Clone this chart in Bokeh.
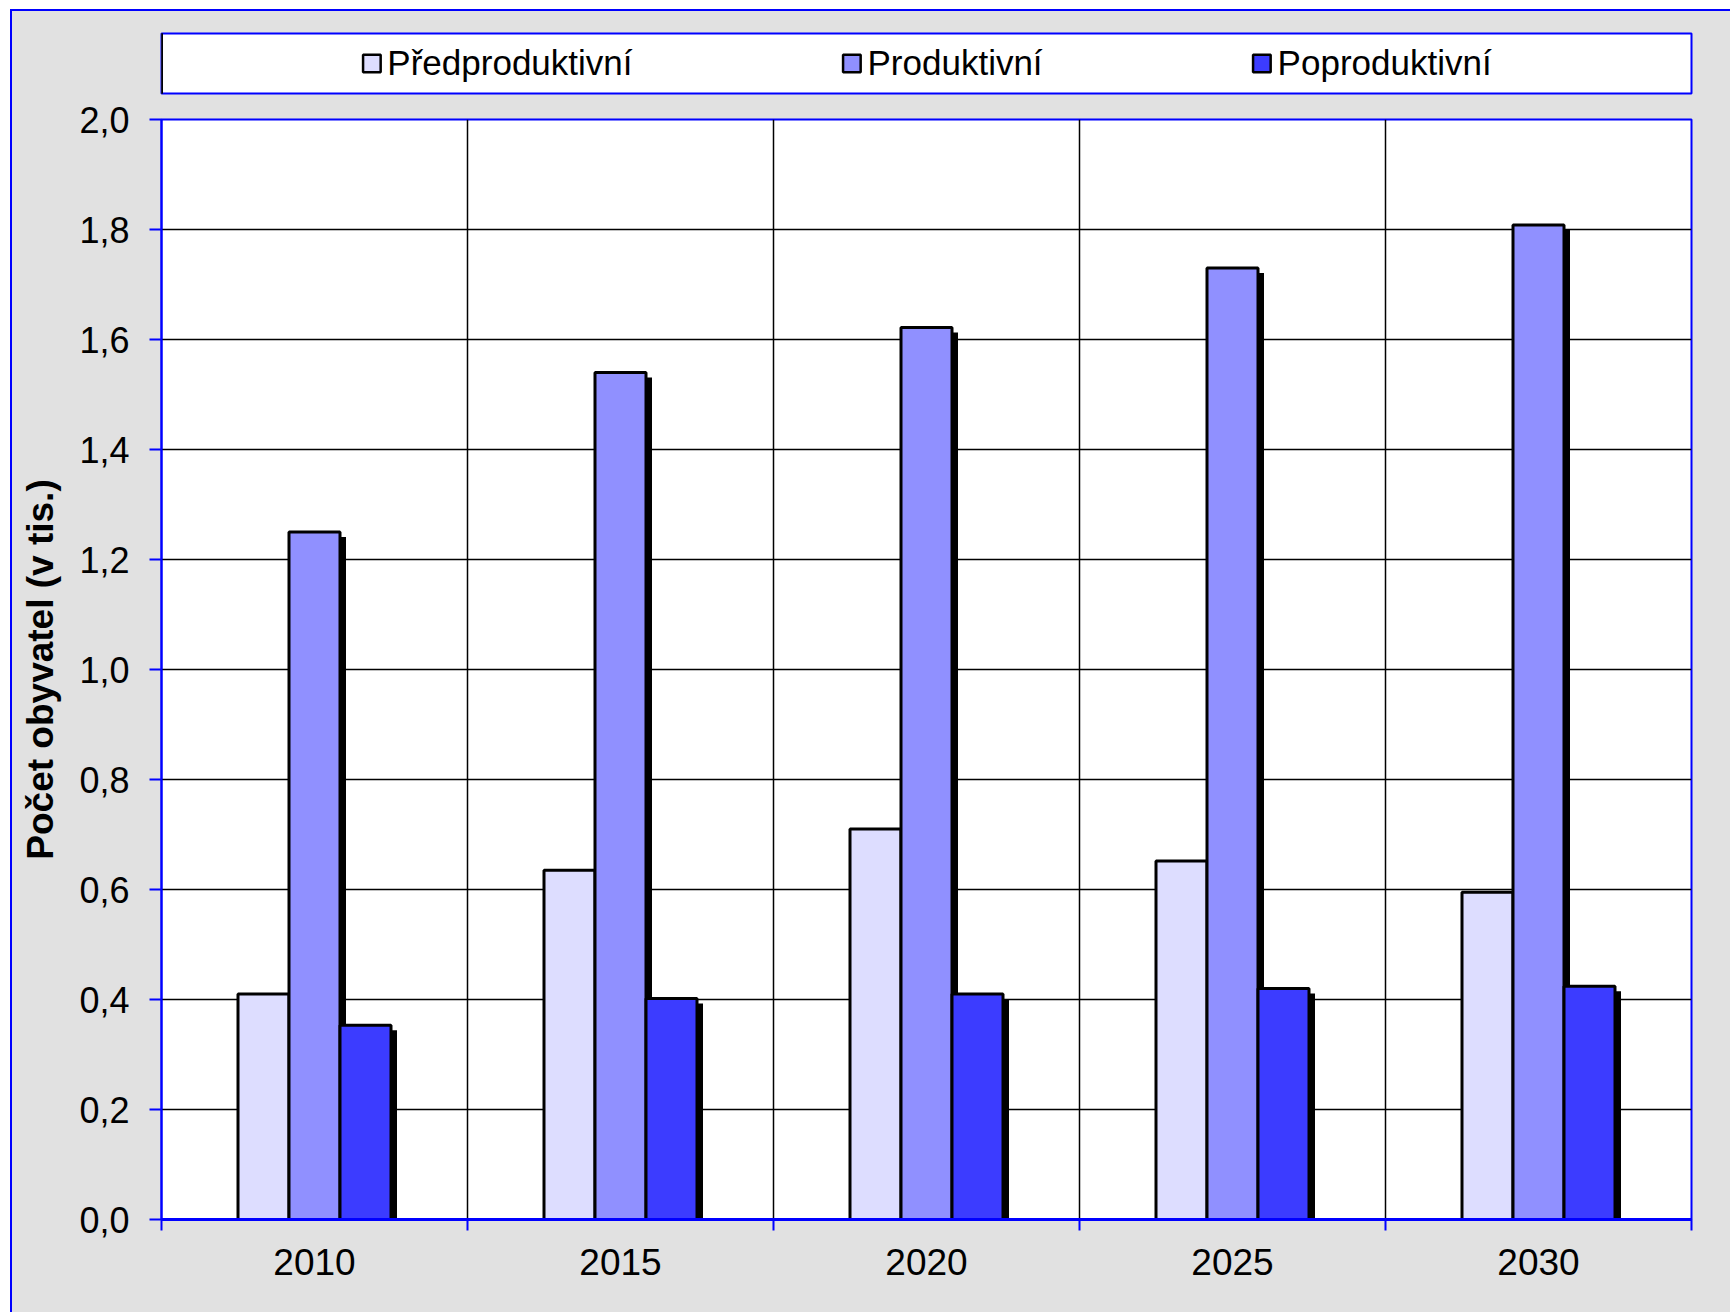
from bokeh.plotting import figure
from bokeh.models import (ColumnDataSource, FixedTicker, CustomJSTickFormatter,
                          Legend, LegendItem, Range1d)
from bokeh.layouts import column
from bokeh.embed import file_html
from bokeh.resources import INLINE

# ---- data ----
years = ["2010", "2015", "2020", "2025", "2030"]
series_names = ["Předproduktivní", "Produktivní", "Poproduktivní"]
predproduktivni = [0.41, 0.635, 0.71, 0.652, 0.595]
produktivni = [1.25, 1.54, 1.622, 1.73, 1.808]
poproduktivni = [0.353, 0.402, 0.41, 0.42, 0.424]
y_ticks = [0.0, 0.2, 0.4, 0.6, 0.8, 1.0, 1.2, 1.4, 1.6, 1.8, 2.0]
y_label = "Počet obyvatel (v tis.)"

# ---- style ----
FONT = "Liberation Sans"
GRAY = "#E1E1E1"
BLUE = "#0000FF"
colors = ["#DDDDFF", "#9090FF", "#3C3CFF"]
W = 1718
FRAME_W = 1530
FRAME_H = 1100
Y_MAX = 2.0
N = len(years)
BAR_W = 1.0 / 6
SHADOW_DX = 6 * N / FRAME_W
SHADOW_DY = 5 * Y_MAX / FRAME_H

# ---- legend strip ----
lf = figure(width=W, height=88, x_range=Range1d(0, 1), y_range=Range1d(0, 1),
            min_border_left=144, min_border_right=39, min_border_top=22, min_border_bottom=6,
            outline_line_color=BLUE, outline_line_width=2,
            background_fill_color="white", border_fill_color=GRAY,
            output_backend="svg", toolbar_location=None)
lf.axis.visible = False
lf.grid.visible = False
items = []
for name, c in zip(series_names, colors):
    # single off-screen point so the legend swatch gets its colours
    r = lf.vbar(x=[-10], top=[1], width=0.1, fill_color=c, line_color="black", line_width=2.5)
    items.append(LegendItem(label=name, renderers=[r]))
legend = Legend(items=items, orientation="horizontal", location="center",
                spacing=208, glyph_width=22, glyph_height=22, label_standoff=5,
                label_text_font=FONT, label_text_font_size="35px", label_text_color="black",
                border_line_color=None, background_fill_alpha=0, padding=0, margin=0)
lf.add_layout(legend)

# ---- main chart ----
p = figure(width=W, height=1213, x_range=Range1d(0, N), y_range=Range1d(0, Y_MAX),
           min_border_left=149, min_border_right=39, min_border_top=20, min_border_bottom=93,
           background_fill_color="white", border_fill_color=GRAY,
           outline_line_color=BLUE, outline_line_width=2,
           output_backend="svg", toolbar_location=None)

for k, (vals, c) in enumerate(zip([predproduktivni, produktivni, poproduktivni], colors)):
    xs = [i + 0.5 + (k - 1) * BAR_W for i in range(N)]
    src = ColumnDataSource(dict(x=xs, top=vals,
                                sx=[x + SHADOW_DX for x in xs],
                                stop=[v - SHADOW_DY for v in vals]))
    p.vbar(x="sx", top="stop", bottom=0, width=BAR_W, source=src,
           fill_color="black", line_color=None)
    p.vbar(x="x", top="top", bottom=0, width=BAR_W, source=src,
           fill_color=c, line_color="black", line_width=3)

# x axis
p.xaxis.ticker = FixedTicker(ticks=[i + 0.5 for i in range(N)], minor_ticks=list(range(N + 1)))
p.xaxis.formatter = CustomJSTickFormatter(args=dict(years=years),
                                          code="return years[Math.floor(tick)];")
p.xaxis.major_tick_out = 0
p.xaxis.major_tick_in = 0
p.xaxis.minor_tick_out = 11
p.xaxis.minor_tick_in = 0
p.xaxis.minor_tick_line_color = BLUE
p.xaxis.minor_tick_line_width = 2
p.xaxis.axis_line_color = BLUE
p.xaxis.axis_line_width = 3
p.xaxis.major_label_standoff = 18
p.xaxis.major_label_text_font = FONT
p.xaxis.major_label_text_font_size = "37px"
p.xaxis.major_label_text_color = "black"

# y axis
p.yaxis.ticker = FixedTicker(ticks=y_ticks, minor_ticks=[])
p.yaxis.formatter = CustomJSTickFormatter(code="return tick.toFixed(1).replace('.', ',');")
p.yaxis.major_tick_out = 12
p.yaxis.major_tick_in = 0
p.yaxis.major_tick_line_color = BLUE
p.yaxis.major_tick_line_width = 2
p.yaxis.axis_line_color = BLUE
p.yaxis.axis_line_width = 2
p.yaxis.major_label_standoff = 20
p.yaxis.major_label_text_font = FONT
p.yaxis.major_label_text_font_size = "36px"
p.yaxis.major_label_text_color = "black"
p.yaxis.axis_label = y_label
p.yaxis.axis_label_text_font = FONT
p.yaxis.axis_label_text_font_size = "37px"
p.yaxis.axis_label_text_font_style = "bold"
p.yaxis.axis_label_text_color = "black"
p.yaxis.axis_label_standoff = 15

# grids
p.xgrid.ticker = FixedTicker(ticks=list(range(1, N)))
p.ygrid.ticker = FixedTicker(ticks=y_ticks[1:-1])
p.xgrid.grid_line_color = "black"
p.ygrid.grid_line_color = "black"
p.xgrid.grid_line_width = 1.5
p.ygrid.grid_line_width = 1.5

layout = column(lf, p, spacing=0,
                styles={"border-left": "2px solid #0000FF", "border-top": "2px solid #0000FF",
                        "margin-left": "10px", "margin-top": "9px",
                        "background-color": GRAY})

open("out.html", "w").write(file_html(layout, INLINE))
